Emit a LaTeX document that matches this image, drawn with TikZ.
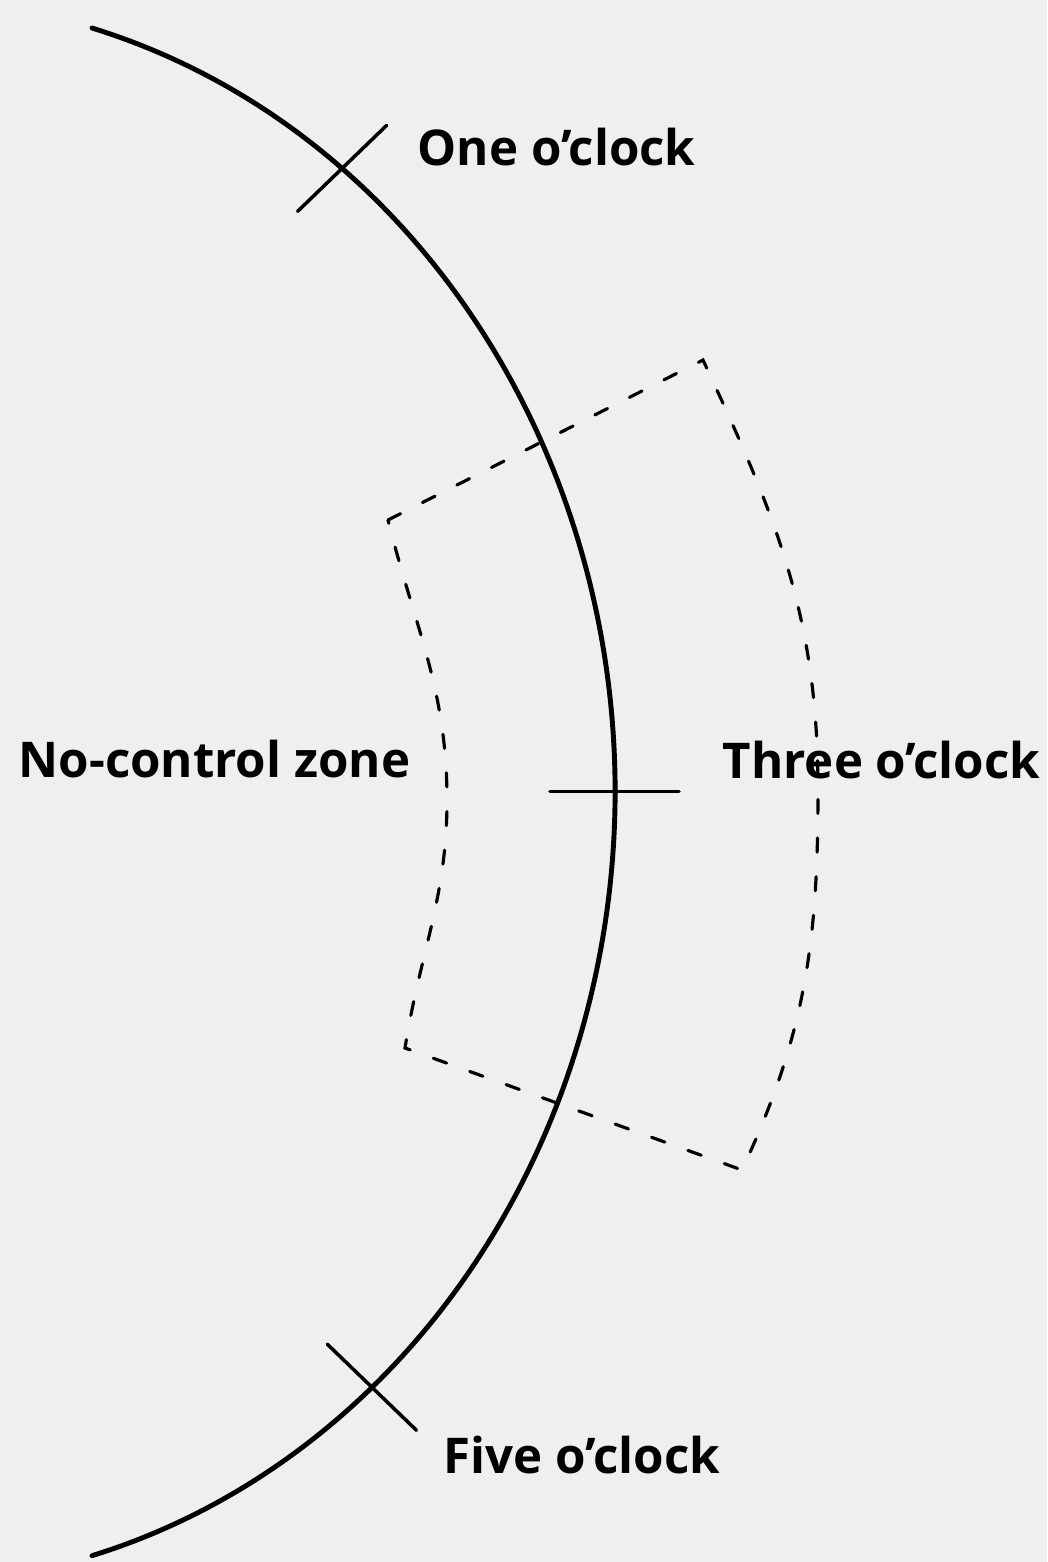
\documentclass[tikz,border=0pt]{standalone}
\usepackage{fontspec}
\setmainfont{Open Sans}
\usetikzlibrary{calc}
\definecolor{paper}{RGB}{239,239,240}

\begin{document}
\begin{tikzpicture}[x=0.01cm, y=0.01cm, line cap=round,
  rim/.style={line width=1.4pt},
  tickline/.style={line width=1pt},
  zone/.style={line width=0.9pt, dash pattern=on 4pt off 7pt},
  lbl/.style={font=\bfseries\fontsize{14}{17}\selectfont, inner sep=0pt, anchor=base west}]
\fill[paper] (0,0) rectangle (1047,-1562);
% the rim
\coordinate (c) at (-100,-791.5);
\draw[rim] (92,-28) arc[start angle=74.42, end angle=-74.42, x radius=715, y radius=793];
\coordinate (one) at ([shift={(c)}]51.8:715 and 793);
\coordinate (three) at ([shift={(c)}]0:715 and 793);
\coordinate (five) at ([shift={(c)}]-48.7:715 and 793);
\draw[tickline] ($(one)+(224:62)$) -- ($(one)+(44:62)$);
\draw[tickline] ($(three)+(-65,0)$) -- ($(three)+(64,0)$);
\draw[tickline] ($(five)+(136:62)$) -- ($(five)+(-44:62)$);
% the zone
\draw[zone] (388,-520) coordinate (tl) -- (703,-360) coordinate (tr)
  to[out=-65,in=90] (818,-790) to[out=-90,in=65] (742,-1170) coordinate (br)
  -- (405,-1048) coordinate (bl) to[out=81,in=-90] (447,-800) to[out=90,in=-76] (tl);
% labels
\node[lbl] (onelbl) at (417,-165) {One o’clock};
\node[lbl] (nozone) at (18,-777) {No-control zone};
\node[lbl] (threelbl) at (722,-778) {Three o’clock};
\node[lbl] (fivelbl) at (443,-1473) {Five o’clock};
\end{tikzpicture}
\end{document}
